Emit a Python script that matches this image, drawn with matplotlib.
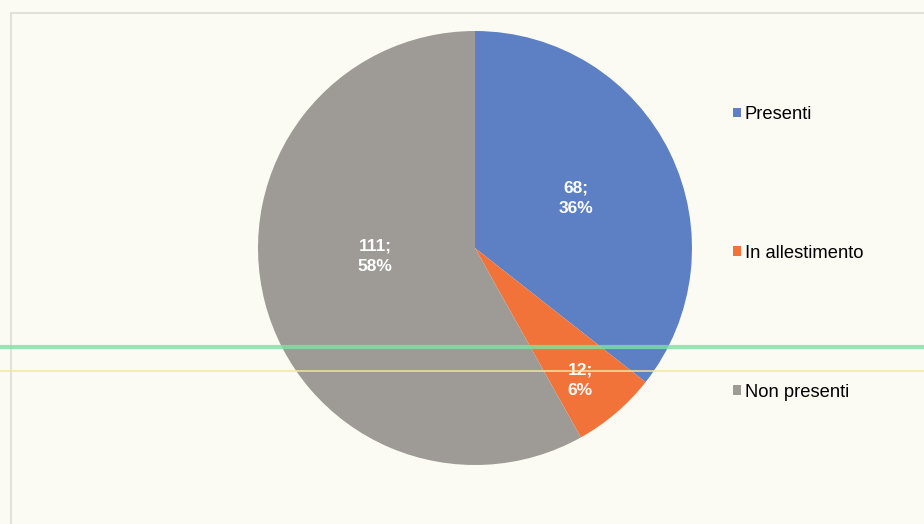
import matplotlib
matplotlib.use("Agg")
import matplotlib.pyplot as plt
from matplotlib.patches import Rectangle
from matplotlib.lines import Line2D

labels = ["Presenti", "In allestimento", "Non presenti"]
counts = [68, 12, 111]
colors = ["#5d80c4", "#f2733a", "#9e9b97"]

total = sum(counts)

fig = plt.figure(figsize=(9.24, 5.24), dpi=100, facecolor="#fbfbf3")

# faint frame of the scanned chart area
fig.patches.append(Rectangle((11 / 924, -0.1), 1.2, 1 - 13 / 524 + 0.1,
                             transform=fig.transFigure, fill=False,
                             edgecolor="#dcdcd4", linewidth=1.2))

ax = fig.add_axes([258 / 924, 59 / 524, 434 / 924, 434 / 524])
ax.set_facecolor("none")

def fmt(pct):
    n = int(round(pct * total / 100))
    return f"{n};\n{pct:.0f}%"

wedges, texts, autotexts = ax.pie(
    counts, colors=colors, startangle=90, counterclock=False,
    autopct=fmt, pctdistance=0.55,
    textprops=dict(color="white", fontsize=12.5, fontweight="bold",
                   family="Liberation Sans", linespacing=1.45),
)
ax.set_aspect("equal")
ax.set_xlim(-1, 1)
ax.set_ylim(-1, 1)

# nudge labels to where the original chart put them
for t, (dx, dy) in zip(autotexts, [(-0.03, -0.01), (0.127, -0.19), (0.072, 0.10)]):
    x, y = t.get_position()
    t.set_position((x + dx, y + dy))

fig.legend(wedges, labels, loc="upper left",
           bbox_to_anchor=(733 / 924, 1 - 106 / 524),
           frameon=False, prop=dict(family="Liberation Sans", size=13.2),
           labelspacing=6.65, handlelength=0.45, handleheight=0.45,
           handletextpad=0.2, borderpad=0, borderaxespad=0)

# scanner streaks
fig.add_artist(Line2D([0, 1], [1 - 347 / 524] * 2, transform=fig.transFigure,
                      color="#7be3a3", linewidth=3, alpha=0.8))
fig.add_artist(Line2D([0, 1], [1 - 371 / 524] * 2, transform=fig.transFigure,
                      color="#f3e6a0", linewidth=1.2, alpha=0.9))

fig.savefig("out.png", dpi=100, facecolor=fig.get_facecolor())
